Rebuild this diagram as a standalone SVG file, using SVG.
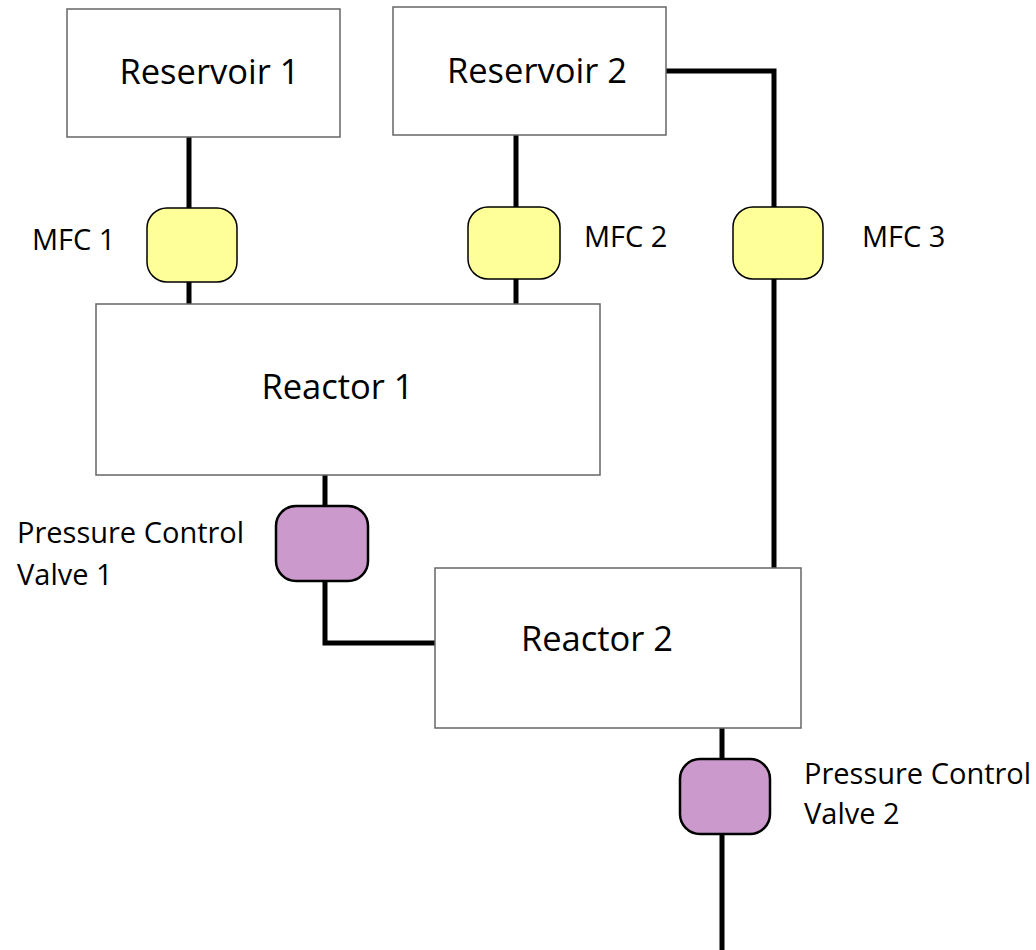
<svg xmlns="http://www.w3.org/2000/svg" width="1036" height="950" viewBox="0 0 1036 950">
<style>
.box{fill:#fff;stroke:#666;stroke-width:1.5}
.mfc{fill:#ffff99;stroke:#000;stroke-width:1.5}
.pcv{fill:#cc99cc;stroke:#000;stroke-width:2.5}
.pipe{fill:none;stroke:#000;stroke-width:5}
.t{font-family:"Open Sans","Liberation Sans",sans-serif;fill:#000}
.big{font-size:34.5px}
.lab{font-size:29px}
</style>
<rect width="1036" height="950" fill="#fff"/>
<g id="connectors">
<path class="pipe" d="M189,137V208M189,282V304"/>
<path class="pipe" d="M516,135V207M516,279V304"/>
<path class="pipe" d="M666,71H774V207M774,279V568"/>
<path class="pipe" d="M325,475V506M325,581V643H435"/>
<path class="pipe" d="M722,728V759M722,834V950"/>
</g>
<g id="reservoir1"><rect class="box" x="67" y="9" width="273" height="128"/><text class="t big" x="209.5" y="84" text-anchor="middle">Reservoir 1</text></g>
<g id="reservoir2"><rect class="box" x="393" y="7" width="273" height="128"/><text class="t big" x="537" y="83" text-anchor="middle">Reservoir 2</text></g>
<g id="mfc1"><rect class="mfc" x="147" y="208" width="90" height="74" rx="20"/><text class="t lab" x="32" y="250">MFC 1</text></g>
<g id="mfc2"><rect class="mfc" x="468" y="207" width="92" height="72" rx="20"/><text class="t lab" x="584" y="247">MFC 2</text></g>
<g id="mfc3"><rect class="mfc" x="733" y="207" width="90" height="72" rx="20"/><text class="t lab" x="862" y="247">MFC 3</text></g>
<g id="reactor1"><rect class="box" x="96" y="304" width="504" height="171"/><text class="t big" x="337.5" y="399" text-anchor="middle">Reactor 1</text></g>
<g id="pcv1"><rect class="pcv" x="276" y="506" width="92" height="75" rx="20"/><text class="t lab"><tspan x="17" y="543">Pressure Control</tspan><tspan x="17" y="585">Valve 1</tspan></text></g>
<g id="reactor2"><rect class="box" x="435" y="568" width="366" height="160"/><text class="t big" x="597" y="651" text-anchor="middle">Reactor 2</text></g>
<g id="pcv2"><rect class="pcv" x="680" y="759" width="90" height="75" rx="20"/><text class="t lab"><tspan x="804" y="784">Pressure Control</tspan><tspan x="804" y="824">Valve 2</tspan></text></g>
</svg>
